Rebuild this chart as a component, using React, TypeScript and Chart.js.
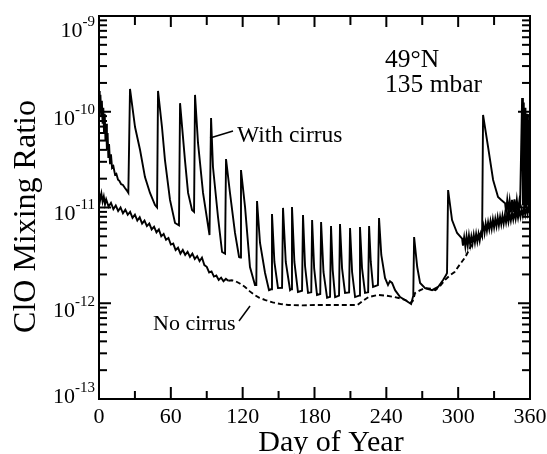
import React, { useEffect, useRef } from "react";
import { Chart, registerables } from "chart.js";

Chart.register(...registerables);

// Day of year, ClO mixing ratio — simulation with cirrus
const WITH_CIRRUS: [number, number][] = [
  [0, 1.65e-10], [0.6, 1.1e-10], [1.2, 1.5e-10], [1.8, 9e-11], [2.4, 1.3e-10], [3, 7.5e-11],
  [3.6, 1.1e-10], [4.2, 6e-11], [4.8, 9.5e-11], [5.4, 5e-11], [6, 7.5e-11], [6.6, 4e-11],
  [7.2, 6e-11], [7.8, 3.3e-11], [8.4, 4.6e-11], [9.2, 2.9e-11], [10, 3.6e-11], [10.9, 2.6e-11],
  [12, 2.7e-11], [13.4, 2.2e-11], [14.5, 2.25e-11], [15.9, 1.95e-11], [17, 1.9e-11], [18.5, 1.75e-11],
  [20, 1.72e-11], [21.7, 1.6e-11], [23, 1.52e-11], [24.5, 1.42e-11],
  [25.9, 1.73e-10], [30.1, 6.93e-11], [34.3, 3.99e-11], [38.4, 2.08e-11], [42.6, 1.42e-11], [46.8, 1.06e-11], [48.5, 1.0e-11],
  [49.3, 1.65e-10], [52.6, 6.93e-11], [55.1, 3.13e-11], [59.3, 1.2e-11], [63.5, 6.89e-12], [66.8, 6.5e-12],
  [67.7, 1.23e-10], [71.8, 3.13e-11], [74.4, 1.42e-11], [77.7, 9.4e-12], [79.4, 9e-12],
  [80.2, 1.5e-10], [82.7, 4.72e-11], [86.9, 1.42e-11], [92.3, 5.16e-12],
  [93.6, 8.6e-11], [95.2, 2.65e-11], [99.4, 7.96e-12], [102.8, 3.43e-12], [105.3, 3.3e-12],
  [106.1, 3.21e-11], [109.4, 1.42e-11], [113.6, 5.42e-12], [117, 3.04e-12], [118, 3.0e-12],
  [118.6, 2.46e-11], [122, 1.01e-11], [126.1, 2.39e-12], [130.3, 1.55e-12], [131.4, 1.55e-12],
  [132, 1.17e-11], [134.5, 4.26e-12], [138.7, 2.07e-12], [142, 1.37e-12], [143.7, 1.4e-12],
  [144.5, 8.55e-12], [146.5, 2.7e-12], [149.5, 1.44e-12], [152.9, 1.45e-12],
  [153.7, 9.9e-12], [156, 2.7e-12], [159.6, 1.37e-12], [160.5, 1.4e-12],
  [161.2, 1.01e-11], [163.2, 2.7e-12], [166.2, 1.31e-12], [169.6, 1.35e-12],
  [170.4, 8.35e-12], [172.1, 2.45e-12], [174.6, 1.28e-12], [177.3, 1.3e-12],
  [178, 7.4e-12], [179.7, 2.33e-12], [182.1, 1.22e-12], [184.8, 1.25e-12],
  [185.5, 7.06e-12], [187.5, 2.12e-12], [190.5, 1.14e-12], [193, 1.17e-12],
  [193.8, 6.41e-12], [195.2, 2.22e-12], [197.2, 1.16e-12], [200.5, 1.2e-12],
  [201.3, 6.73e-12], [203, 2.33e-12], [205.5, 1.28e-12], [208.9, 1.3e-12],
  [209.7, 6.11e-12], [211.4, 2.12e-12], [213.9, 1.16e-12], [217.2, 1.2e-12],
  [218, 6.25e-12], [219.7, 2.33e-12], [222.2, 1.28e-12], [224.8, 1.3e-12],
  [225.6, 6.41e-12], [227, 2.7e-12], [228.9, 1.48e-12], [233, 1.55e-12],
  [233.9, 7.77e-12], [235.8, 3.19e-12], [238.9, 1.84e-12], [241.4, 1.55e-12], [243, 1.7e-12],
  [244.8, 1.63e-12], [247.3, 1.37e-12], [251.5, 1.16e-12], [255.6, 1.08e-12], [260.7, 9.8e-13], [262.5, 1.2e-12],
  [263.2, 4.92e-12], [265.8, 2.39e-12], [268.2, 1.63e-12], [272.4, 1.44e-12], [278.2, 1.37e-12],
  [283.2, 1.48e-12], [287.4, 1.75e-12], [289.9, 1.97e-12], [290.7, 2.07e-12],
  [291.6, 1.52e-11], [294.9, 7.4e-12], [299.1, 5.42e-12], [303.3, 4.74e-12],
  [304, 4.0e-12], [305, 4.9e-12], [306, 3.9e-12], [307, 5.0e-12], [308, 4.0e-12], [309, 5.1e-12],
  [310, 4.1e-12], [311, 5.0e-12], [312, 4.2e-12], [313, 5.2e-12], [314, 4.3e-12], [315, 5.3e-12],
  [316, 4.4e-12], [317, 5.3e-12], [318, 4.5e-12], [319, 5.4e-12], [320, 5.0e-12],
  [320.8, 9.25e-11], [325, 4.28e-11], [329.2, 1.94e-11], [333.3, 1.29e-11], [336, 1.2e-11], [339.2, 1.11e-11],
  [340, 9.0e-12], [341, 1.2e-11], [342, 9.2e-12], [343, 1.18e-11], [344, 8.9e-12], [345, 1.2e-11],
  [346, 9.0e-12], [347, 1.22e-11], [348, 9.1e-12], [349, 1.2e-11], [350, 9.3e-12], [351, 1.15e-11], [351.7, 1.01e-11],
  [353.4, 1.39e-10], [354.1, 1.05e-11], [354.8, 1.25e-10], [355.5, 1.0e-11], [356.2, 1.1e-10],
  [356.9, 1.0e-11], [357.6, 9.5e-11], [358.3, 1.05e-11], [359, 8e-11], [359.7, 1.1e-11], [360, 6e-11],
];

// Day of year, ClO mixing ratio — simulation without cirrus
const NO_CIRRUS: [number, number][] = [
  [0, 1.45e-11], [1, 1.2e-11], [2, 1.4e-11], [3, 1.15e-11], [4, 1.3e-11], [5, 1.08e-11], [6, 1.22e-11],
  [8, 1.02e-11], [10, 1.12e-11], [12, 9.6e-12], [14, 1.05e-11], [16, 9.2e-12], [18, 1.0e-11], [20, 8.7e-12],
  [22, 9.5e-12], [24, 8.4e-12], [26, 9.0e-12], [28, 7.8e-12], [30, 8.4e-12], [32, 7.3e-12], [34, 7.9e-12],
  [36, 6.8e-12], [38, 7.3e-12], [40, 6.4e-12], [42, 6.8e-12], [44, 5.9e-12], [46, 6.3e-12], [48, 5.5e-12],
  [50, 5.9e-12], [52, 5.0e-12], [54, 5.3e-12], [56, 4.6e-12], [58, 4.8e-12], [60, 4.1e-12], [62, 4.2e-12],
  [64, 3.6e-12], [66, 3.8e-12], [68, 3.3e-12], [70, 3.6e-12], [72, 3.2e-12], [74, 3.45e-12], [76, 3.05e-12],
  [78, 3.3e-12], [80, 2.9e-12], [82, 3.1e-12], [84, 2.75e-12], [86, 3.0e-12], [88, 2.5e-12], [90, 2.4e-12],
  [92, 2.1e-12], [94, 2.15e-12], [96, 1.9e-12], [98, 1.95e-12], [100, 1.75e-12], [102, 1.85e-12],
  [104, 1.7e-12], [106, 1.8e-12], [108, 1.72e-12],
  [111, 1.74e-12], [114, 1.7e-12], [118, 1.6e-12], [122, 1.48e-12], [126, 1.33e-12], [130, 1.22e-12],
  [134, 1.14e-12], [139, 1.08e-12], [145, 1.02e-12], [152, 9.8e-13], [158, 9.6e-13], [170, 9.5e-13],
  [180, 9.6e-13], [189, 9.6e-13], [200, 9.6e-13], [210, 9.6e-13], [216, 9.6e-13], [220, 1.05e-12],
  [225, 1.16e-12], [233, 1.22e-12], [240, 1.2e-12], [247, 1.16e-12], [252, 1.12e-12], [256, 1.08e-12],
  [260, 1.01e-12], [262, 1.05e-12], [264, 1.28e-12], [268, 1.36e-12], [272, 1.44e-12], [277, 1.42e-12],
  [281, 1.37e-12], [285, 1.52e-12], [289, 1.75e-12], [293, 1.95e-12], [297, 2.12e-12], [301, 2.5e-12],
  [306, 3.04e-12], [310, 3.8e-12], [314, 4.74e-12], [318, 5.3e-12],
  [320, 5.6e-12], [321, 6.5e-12], [322, 5.4e-12], [323, 6.8e-12], [324, 5.7e-12], [325, 7.0e-12],
  [326, 5.9e-12], [327, 7.2e-12], [328, 6.0e-12], [329, 7.5e-12], [330, 6.2e-12], [331, 7.6e-12],
  [332, 6.4e-12], [333, 7.9e-12], [334, 6.5e-12], [335, 8.0e-12], [336, 6.7e-12], [337, 8.2e-12],
  [338, 6.8e-12], [339, 8.3e-12], [340, 7.0e-12], [341, 8.5e-12], [342, 7.1e-12], [343, 8.6e-12],
  [344, 7.3e-12], [345, 8.8e-12], [346, 7.5e-12], [347, 9.0e-12], [348, 7.6e-12], [349, 9.2e-12],
  [350, 7.8e-12], [351, 9.4e-12], [352, 8.0e-12], [353, 9.6e-12], [354, 8.2e-12], [355, 9.8e-12],
  [356, 8.4e-12], [357, 1.0e-11], [358, 8.6e-12], [359, 1.05e-11], [360, 9.0e-12],
];

const X_MAJOR = [0, 60, 120, 180, 240, 300, 360];
const X_MINOR = [30, 90, 150, 210, 270, 330];
const Y_EXPONENTS = [-13, -12, -11, -10, -9];
const Y_MINOR_MULT = [2, 3, 4, 5, 6, 7, 8, 9];
const DASH_FROM = 108;
const DASH_TO = 319;

const SERIF = '"Liberation Serif", "Times New Roman", serif';

const framePlugin = {
  id: "framePlugin",
  beforeDraw(chart: any) {
    const { ctx, width, height } = chart;
    ctx.save();
    ctx.fillStyle = "#fff";
    ctx.fillRect(0, 0, width, height);
    ctx.restore();
  },
  afterDraw(chart: any) {
    const { ctx, chartArea: a, scales } = chart;
    const xs = scales.x;
    const ys = scales.y;
    ctx.save();
    ctx.strokeStyle = "#000";
    ctx.fillStyle = "#000";
    ctx.lineWidth = 2;
    ctx.lineCap = "butt";
    ctx.strokeRect(a.left, a.top, a.right - a.left, a.bottom - a.top);

    const line = (x1: number, y1: number, x2: number, y2: number) => {
      ctx.beginPath();
      ctx.moveTo(x1, y1);
      ctx.lineTo(x2, y2);
      ctx.stroke();
    };

    // x ticks (inward, bottom and top)
    X_MAJOR.forEach((v) => {
      const x = xs.getPixelForValue(v);
      line(x, a.bottom, x, a.bottom - 12);
      line(x, a.top, x, a.top + 11);
    });
    X_MINOR.forEach((v) => {
      const x = xs.getPixelForValue(v);
      line(x, a.bottom, x, a.bottom - 8);
      line(x, a.top, x, a.top + 9);
    });

    // y ticks (inward, left and right)
    Y_EXPONENTS.forEach((e, i) => {
      const y = ys.getPixelForValue(Math.pow(10, e));
      line(a.left, y, a.left + 12, y);
      line(a.right, y, a.right - 12, y);
      if (i < Y_EXPONENTS.length - 1) {
        Y_MINOR_MULT.forEach((m) => {
          const ym = ys.getPixelForValue(m * Math.pow(10, e));
          line(a.left, ym, a.left + 8, ym);
          line(a.right, ym, a.right - 8, ym);
        });
      }
    });

    // y tick labels 10^n
    const baseOffsets = [4, 14, 12.5, 13, 21];
    Y_EXPONENTS.forEach((e, i) => {
      const y = ys.getPixelForValue(Math.pow(10, e));
      const base = y + baseOffsets[i];
      ctx.font = `22px ${SERIF}`;
      const w1 = ctx.measureText("10").width;
      ctx.font = `15px ${SERIF}`;
      const sup = "-" + String(-e);
      const w2 = ctx.measureText(sup).width;
      const right = a.left - 4;
      const x0 = right - w1 - w2;
      ctx.textAlign = "left";
      ctx.textBaseline = "alphabetic";
      ctx.font = `22px ${SERIF}`;
      ctx.fillText("10", x0, base);
      ctx.font = `15px ${SERIF}`;
      ctx.fillText(sup, x0 + w1, base - 11);
    });

    // x tick labels
    ctx.font = `22px ${SERIF}`;
    ctx.textAlign = "center";
    X_MAJOR.forEach((v) => {
      ctx.fillText(String(v), xs.getPixelForValue(v), a.bottom + 24);
    });

    // axis titles
    ctx.font = `30px ${SERIF}`;
    ctx.fillText("Day of Year", 331, a.bottom + 52);

    ctx.save();
    ctx.translate(35, (a.top + a.bottom) / 2 + 9);
    ctx.rotate(-Math.PI / 2);
    ctx.font = `32px ${SERIF}`;
    ctx.textAlign = "center";
    ctx.fillText("ClO Mixing Ratio", 0, 0);
    ctx.restore();

    // annotations
    ctx.textAlign = "left";
    ctx.font = `25.5px ${SERIF}`;
    ctx.fillText("49°N", 385, 67);
    ctx.fillText("135 mbar", 385, 92);

    ctx.font = `23.5px ${SERIF}`;
    ctx.fillText("With cirrus", 237, 142);
    ctx.font = `22px ${SERIF}`;
    ctx.fillText("No cirrus", 153, 330);

    ctx.lineWidth = 1.5;
    line(210, 138, 233, 131);
    line(239, 321, 250, 306);

    ctx.restore();
  },
};

export default function App() {
  const ref = useRef<HTMLCanvasElement | null>(null);

  useEffect(() => {
    if (!ref.current) return;
    const chart = new Chart(ref.current, {
      type: "line",
      data: {
        datasets: [
          {
            label: "With cirrus",
            data: WITH_CIRRUS.map(([x, y]) => ({ x, y })),
            borderColor: "#000",
            borderWidth: 1.9,
            pointRadius: 0,
            tension: 0,
            fill: false,
          },
          {
            label: "No cirrus",
            data: NO_CIRRUS.map(([x, y]) => ({ x, y })),
            borderColor: "#000",
            borderWidth: 1.9,
            pointRadius: 0,
            tension: 0,
            fill: false,
            segment: {
              borderDash: (c: any) =>
                c.p0.parsed.x >= DASH_FROM && c.p0.parsed.x < DASH_TO ? [5, 3] : undefined,
            },
          },
        ],
      },
      options: {
        animation: false,
        responsive: false,
        events: [],
        layout: { padding: { left: 99, top: 16, right: 17, bottom: 55 } },
        plugins: {
          legend: { display: false },
          tooltip: { enabled: false },
        },
        scales: {
          x: { type: "linear", min: 0, max: 360, display: false },
          y: { type: "logarithmic", min: 1e-13, max: 1e-9, display: false },
        },
      },
      plugins: [framePlugin],
    });
    return () => chart.destroy();
  }, []);

  return (
    <canvas
      ref={ref}
      width={547}
      height={454}
      style={{ position: "absolute", left: 0, top: 0, width: 547, height: 454 }}
    />
  );
}
